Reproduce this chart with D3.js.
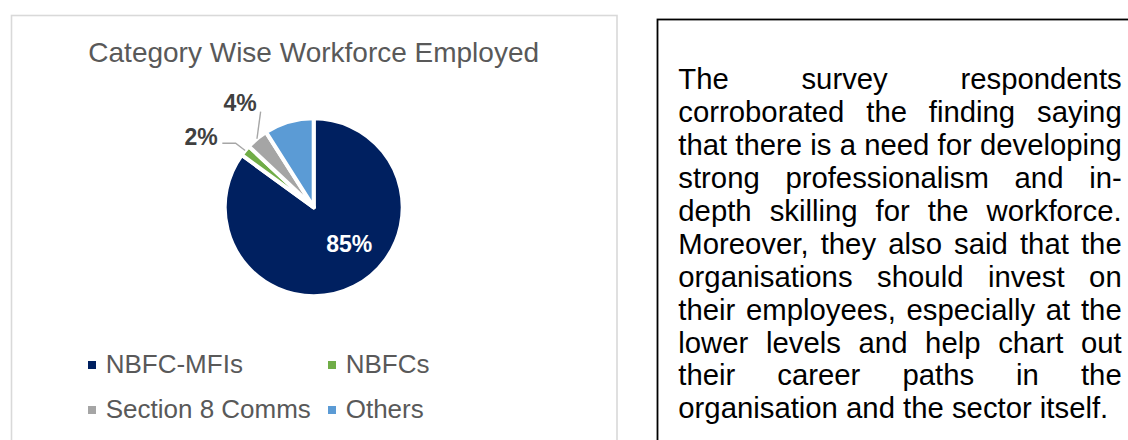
<!DOCTYPE html>
<html>
<head>
<meta charset="utf-8">
<script src="https://cdn.jsdelivr.net/npm/d3@7"></script>
<style>
  html, body { margin: 0; padding: 0; background: #ffffff; }
  svg { display: block; }
  text { font-family: "Liberation Sans", Arial, Helvetica, sans-serif; }
</style>
</head>
<body>
<svg id="view" width="1128" height="440"></svg>
<script>
// ---- data ----
const categories = ["NBFC-MFIs", "NBFCs", "Section 8 Comms", "Others"];
const shares = [85, 2, 4, 9];
const sliceColors = ["#002060", "#70AD47", "#A5A5A5", "#5B9BD5"];
const showLabel = [true, true, true, false];

const chartTitle = "Category Wise Workforce Employed";
const noteLines = [
  "The survey respondents",
  "corroborated the finding saying",
  "that there is a need for developing",
  "strong professionalism and in-",
  "depth skilling for the workforce.",
  "Moreover, they also said that the",
  "organisations should invest on",
  "their employees, especially at the",
  "lower levels and help chart out",
  "their career paths in the",
  "organisation and the sector itself."
];

// ---- layout ----
const W = 1128, H = 440;
const pieCx = 313.7, pieCy = 207.3, pieR = 89;

// label placement relative to the pie centre (text centre x, baseline y)
const labelPlacement = [
  { dx: 35.5, dy: 45, fill: "#ffffff", leader: null },
  { dx: -112.5, dy: -62.3, fill: "#404040", leader: { gap: 4.5, lift: 1.7, elbow: 13.3 } },
  { dx: -73.7, dy: -96.3, fill: "#404040", leader: { gap: 4, lift: -0.7, elbow: 0 } },
  null
];

const svg = d3.select("#view");
svg.append("rect").attr("width", W).attr("height", H).attr("fill", "#ffffff");

// chart frame (runs off the bottom edge)
svg.append("rect")
  .attr("x", 11.5).attr("y", 15.5)
  .attr("width", 605.5).attr("height", 460)
  .attr("fill", "none").attr("stroke", "#d9d9d9").attr("stroke-width", 1.6);

// title
svg.append("text")
  .attr("x", pieCx).attr("y", 62)
  .attr("text-anchor", "middle")
  .attr("font-size", 28)
  .attr("fill", "#595959")
  .text(chartTitle);

// pie
const pie = d3.pie().sort(null).value(d => d.value);
const arcs = pie(categories.map((c, i) => ({ name: c, value: shares[i], i })));
const arc = d3.arc().innerRadius(0).outerRadius(pieR);
const color = d3.scaleOrdinal().domain(categories).range(sliceColors);

const g = svg.append("g").attr("transform", `translate(${pieCx},${pieCy})`);
g.selectAll("path.slice")
  .data(arcs)
  .join("path")
  .attr("class", "slice")
  .attr("d", arc)
  .attr("fill", d => color(d.data.name))
  .attr("stroke", "#ffffff")
  .attr("stroke-width", 4)
  .attr("stroke-linejoin", "round");

// data labels and leader lines
const fmt = v => `${v}%`;
const edgeArc = d3.arc().innerRadius(pieR - 1).outerRadius(pieR - 1);
arcs.forEach((d, i) => {
  if (!showLabel[i]) return;
  const p = labelPlacement[i];
  const t = g.append("text")
    .attr("x", p.dx).attr("y", p.dy)
    .attr("text-anchor", "middle")
    .attr("font-size", 23)
    .attr("font-weight", "bold")
    .attr("fill", p.fill)
    .text(fmt(d.data.value));
  if (p.leader) {
    const w = t.node().getComputedTextLength();
    const sx = p.dx + w / 2 + p.leader.gap;
    const sy = p.dy - p.leader.lift;
    const mid = (d.startAngle + d.endAngle) / 2;
    const ex = Math.sin(mid) * pieR, ey = -Math.cos(mid) * pieR;
    const pts = [[sx, sy]];
    if (p.leader.elbow) pts.push([sx + p.leader.elbow, sy]);
    pts.push([ex, ey]);
    g.append("path")
      .attr("d", d3.line()(pts))
      .attr("fill", "none")
      .attr("stroke", "#a6a6a6")
      .attr("stroke-width", 1.4);
  }
});

// legend: two columns, two rows
const legend = svg.append("g");
const legendCols = [88, 328], legendRows = [373.3, 418.3];
categories.forEach((c, i) => {
  const x = legendCols[i % 2], y = legendRows[Math.floor(i / 2)];
  legend.append("rect")
    .attr("x", x).attr("y", y - 12.3)
    .attr("width", 8).attr("height", 8)
    .attr("fill", color(c));
  legend.append("text")
    .attr("x", x + 17.7).attr("y", y)
    .attr("font-size", 26)
    .attr("fill", "#595959")
    .text(c);
});

// note box with justified text (runs off the right and bottom edges)
svg.append("rect")
  .attr("x", 657.5).attr("y", 19.5)
  .attr("width", 600).attr("height", 600)
  .attr("fill", "#ffffff").attr("stroke", "#000000").attr("stroke-width", 1.8);

const textLeft = 678.3, textRight = 1121.7, firstBase = 89.3, lineGap = 32.9;
const note = svg.append("g").attr("font-size", 29.3).attr("fill", "#000000");
const probe = svg.append("text").attr("font-size", 29.3).attr("visibility", "hidden");
const wordWidth = w => { probe.text(w); return probe.node().getComputedTextLength(); };

noteLines.forEach((line, li) => {
  const y = firstBase + li * lineGap;
  const words = line.split(" ");
  const last = li === noteLines.length - 1;
  if (last || words.length === 1) {
    note.append("text").attr("x", textLeft).attr("y", y).text(line);
    return;
  }
  const widths = words.map(wordWidth);
  const gap = (textRight - textLeft - d3.sum(widths)) / (words.length - 1);
  let x = textLeft;
  words.forEach((w, k) => {
    note.append("text").attr("x", x).attr("y", y).text(w);
    x += widths[k] + gap;
  });
});
probe.remove();
</script>
</body>
</html>
